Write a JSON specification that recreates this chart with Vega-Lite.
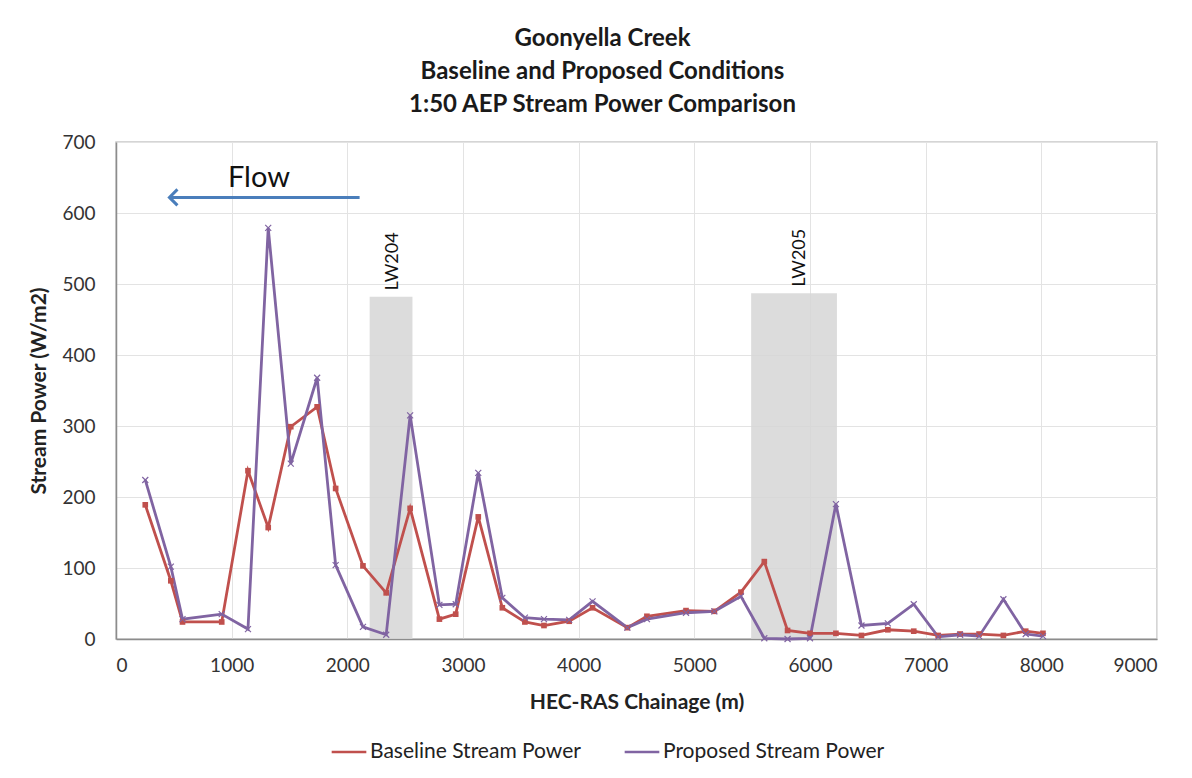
{
  "$schema": "https://vega.github.io/schema/vega-lite/v6.json",
  "autosize": {"type": "none"},
  "width": 1041,
  "height": 497,
  "padding": {"left": 116, "top": 142, "right": 35, "bottom": 139},
  "background": "white",
  "config": {
    "font": "Lato",
    "view": {"stroke": "#C8C8C8", "strokeWidth": 1.5},
    "axis": {
      "labelFont": "Lato", "labelFontSize": 19, "labelColor": "#333333",
      "titleFont": "Lato", "titleFontSize": 21, "titleFontWeight": "bold", "titleColor": "#222222",
      "gridColor": "#E3E3E3", "gridWidth": 1, "ticks": false, "tickSize": 0,
      "domainColor": "#8C8C8C", "domainWidth": 1.5
    }
  },
  "title": {
    "text": ["Goonyella Creek", "Baseline and Proposed Conditions", "1:50 AEP Stream Power Comparison"],
    "font": "Lato", "fontSize": 24, "fontWeight": "bold", "color": "#1A1A1A",
    "lineHeight": 33, "anchor": "middle", "dx": -34, "offset": 16
  },
  "datasets": {
    "power": [
      {"chainage": 253, "series": "Baseline Stream Power", "power": 189},
      {"chainage": 474, "series": "Baseline Stream Power", "power": 82},
      {"chainage": 575, "series": "Baseline Stream Power", "power": 24},
      {"chainage": 914, "series": "Baseline Stream Power", "power": 24},
      {"chainage": 1141, "series": "Baseline Stream Power", "power": 237},
      {"chainage": 1316, "series": "Baseline Stream Power", "power": 157},
      {"chainage": 1511, "series": "Baseline Stream Power", "power": 299},
      {"chainage": 1739, "series": "Baseline Stream Power", "power": 327},
      {"chainage": 1899, "series": "Baseline Stream Power", "power": 212},
      {"chainage": 2135, "series": "Baseline Stream Power", "power": 103},
      {"chainage": 2336, "series": "Baseline Stream Power", "power": 65},
      {"chainage": 2543, "series": "Baseline Stream Power", "power": 184},
      {"chainage": 2796, "series": "Baseline Stream Power", "power": 28},
      {"chainage": 2937, "series": "Baseline Stream Power", "power": 35},
      {"chainage": 3132, "series": "Baseline Stream Power", "power": 172},
      {"chainage": 3340, "series": "Baseline Stream Power", "power": 44},
      {"chainage": 3535, "series": "Baseline Stream Power", "power": 24},
      {"chainage": 3700, "series": "Baseline Stream Power", "power": 19},
      {"chainage": 3918, "series": "Baseline Stream Power", "power": 25},
      {"chainage": 4120, "series": "Baseline Stream Power", "power": 44},
      {"chainage": 4421, "series": "Baseline Stream Power", "power": 16},
      {"chainage": 4590, "series": "Baseline Stream Power", "power": 32},
      {"chainage": 4928, "series": "Baseline Stream Power", "power": 40},
      {"chainage": 5173, "series": "Baseline Stream Power", "power": 39},
      {"chainage": 5403, "series": "Baseline Stream Power", "power": 66},
      {"chainage": 5605, "series": "Baseline Stream Power", "power": 109},
      {"chainage": 5806, "series": "Baseline Stream Power", "power": 12},
      {"chainage": 6000, "series": "Baseline Stream Power", "power": 8},
      {"chainage": 6224, "series": "Baseline Stream Power", "power": 8},
      {"chainage": 6445, "series": "Baseline Stream Power", "power": 5},
      {"chainage": 6673, "series": "Baseline Stream Power", "power": 13},
      {"chainage": 6897, "series": "Baseline Stream Power", "power": 11},
      {"chainage": 7108, "series": "Baseline Stream Power", "power": 5},
      {"chainage": 7298, "series": "Baseline Stream Power", "power": 7},
      {"chainage": 7462, "series": "Baseline Stream Power", "power": 7},
      {"chainage": 7672, "series": "Baseline Stream Power", "power": 5},
      {"chainage": 7865, "series": "Baseline Stream Power", "power": 11},
      {"chainage": 8014, "series": "Baseline Stream Power", "power": 8},
      {"chainage": 253, "series": "Proposed Stream Power", "power": 224},
      {"chainage": 474, "series": "Proposed Stream Power", "power": 102},
      {"chainage": 575, "series": "Proposed Stream Power", "power": 28},
      {"chainage": 914, "series": "Proposed Stream Power", "power": 35},
      {"chainage": 1141, "series": "Proposed Stream Power", "power": 14},
      {"chainage": 1316, "series": "Proposed Stream Power", "power": 579},
      {"chainage": 1511, "series": "Proposed Stream Power", "power": 247},
      {"chainage": 1739, "series": "Proposed Stream Power", "power": 368},
      {"chainage": 1899, "series": "Proposed Stream Power", "power": 104},
      {"chainage": 2135, "series": "Proposed Stream Power", "power": 17},
      {"chainage": 2336, "series": "Proposed Stream Power", "power": 6},
      {"chainage": 2543, "series": "Proposed Stream Power", "power": 315},
      {"chainage": 2796, "series": "Proposed Stream Power", "power": 48},
      {"chainage": 2937, "series": "Proposed Stream Power", "power": 49},
      {"chainage": 3132, "series": "Proposed Stream Power", "power": 234},
      {"chainage": 3340, "series": "Proposed Stream Power", "power": 58},
      {"chainage": 3535, "series": "Proposed Stream Power", "power": 30},
      {"chainage": 3700, "series": "Proposed Stream Power", "power": 28},
      {"chainage": 3918, "series": "Proposed Stream Power", "power": 27},
      {"chainage": 4120, "series": "Proposed Stream Power", "power": 53},
      {"chainage": 4421, "series": "Proposed Stream Power", "power": 16},
      {"chainage": 4590, "series": "Proposed Stream Power", "power": 28},
      {"chainage": 4928, "series": "Proposed Stream Power", "power": 37},
      {"chainage": 5173, "series": "Proposed Stream Power", "power": 39},
      {"chainage": 5403, "series": "Proposed Stream Power", "power": 60},
      {"chainage": 5605, "series": "Proposed Stream Power", "power": 1},
      {"chainage": 5806, "series": "Proposed Stream Power", "power": 0},
      {"chainage": 6000, "series": "Proposed Stream Power", "power": 1},
      {"chainage": 6224, "series": "Proposed Stream Power", "power": 190},
      {"chainage": 6445, "series": "Proposed Stream Power", "power": 19},
      {"chainage": 6673, "series": "Proposed Stream Power", "power": 22},
      {"chainage": 6897, "series": "Proposed Stream Power", "power": 49},
      {"chainage": 7108, "series": "Proposed Stream Power", "power": 3},
      {"chainage": 7298, "series": "Proposed Stream Power", "power": 6},
      {"chainage": 7462, "series": "Proposed Stream Power", "power": 4},
      {"chainage": 7672, "series": "Proposed Stream Power", "power": 56},
      {"chainage": 7865, "series": "Proposed Stream Power", "power": 7},
      {"chainage": 8014, "series": "Proposed Stream Power", "power": 4}
    ],
    "zones": [
      {"name": "LW204", "start": 2193, "end": 2563, "bottom": 0, "top": 482, "labelX": 2394, "labelY": 491},
      {"name": "LW205", "start": 5491, "end": 6233, "bottom": 0, "top": 487, "labelX": 5910, "labelY": 496}
    ],
    "flow": [
      {"from": 2106, "to": 475, "tip": 462, "level": 622, "label": "Flow", "labelX": 1236, "labelY": 650}
    ]
  },
  "layer": [
    {
      "data": {"name": "zones"},
      "mark": {"type": "rect", "fill": "#D6D6D6", "opacity": 0.85},
      "encoding": {
        "x": {"field": "start", "type": "quantitative", "scale": {"domain": [0, 9000], "nice": false},
              "axis": {"values": [0, 1000, 2000, 3000, 4000, 5000, 6000, 7000, 8000, 9000], "format": "d", "title": "HEC-RAS Chainage (m)", "labelPadding": 17, "titlePadding": 16, "grid": true}},
        "x2": {"field": "end"},
        "y": {"field": "top", "type": "quantitative", "scale": {"domain": [0, 700], "nice": false},
              "axis": {"values": [0, 100, 200, 300, 400, 500, 600, 700], "format": "d", "title": "Stream Power (W/m2)", "labelPadding": 21, "titlePadding": 12, "grid": true}},
        "y2": {"field": "bottom"}
      }
    },
    {
      "data": {"name": "zones"},
      "mark": {"type": "text", "angle": 270, "align": "left", "baseline": "middle", "font": "Lato", "fontSize": 18, "color": "#111111"},
      "encoding": {
        "x": {"field": "labelX", "type": "quantitative"},
        "y": {"field": "labelY", "type": "quantitative"},
        "text": {"field": "name", "type": "nominal"}
      }
    },
    {
      "data": {"name": "flow"},
      "mark": {"type": "rule", "color": "#4A7EBB", "strokeWidth": 3},
      "encoding": {
        "x": {"field": "from", "type": "quantitative"},
        "x2": {"field": "to"},
        "y": {"field": "level", "type": "quantitative"}
      }
    },
    {
      "data": {"name": "flow"},
      "mark": {"type": "point", "shape": "M1,-1L0,0L1,1", "size": 256, "filled": false, "stroke": "#4A7EBB", "strokeWidth": 3, "opacity": 1},
      "encoding": {
        "x": {"field": "tip", "type": "quantitative"},
        "y": {"field": "level", "type": "quantitative"}
      }
    },
    {
      "data": {"name": "flow"},
      "mark": {"type": "text", "font": "Lato", "fontSize": 29, "color": "#111111", "align": "center", "baseline": "middle"},
      "encoding": {
        "x": {"field": "labelX", "type": "quantitative"},
        "y": {"field": "labelY", "type": "quantitative"},
        "text": {"field": "label", "type": "nominal"}
      }
    },
    {
      "data": {"name": "power"},
      "mark": {"type": "line", "strokeWidth": 2.8},
      "encoding": {
        "x": {"field": "chainage", "type": "quantitative"},
        "y": {"field": "power", "type": "quantitative"},
        "color": {"field": "series", "type": "nominal",
                  "scale": {"domain": ["Baseline Stream Power", "Proposed Stream Power"], "range": ["#C0504D", "#8064A2"]},
                  "legend": {"title": null, "orient": "none", "legendX": 214, "legendY": 591, "direction": "horizontal",
                             "symbolType": "stroke", "symbolStrokeWidth": 2.5, "symbolSize": 1200, "labelLimit": 0,
                             "labelFont": "Lato", "labelFontSize": 21, "labelColor": "#222222", "columnPadding": 38, "labelOffset": 2}}
      }
    },
    {
      "data": {"name": "power"},
      "transform": [{"filter": "datum.series === 'Baseline Stream Power'"}],
      "mark": {"type": "point", "shape": "square", "filled": true, "size": 32, "color": "#C0504D", "opacity": 1},
      "encoding": {
        "x": {"field": "chainage", "type": "quantitative"},
        "y": {"field": "power", "type": "quantitative"}
      }
    },
    {
      "data": {"name": "power"},
      "transform": [{"filter": "datum.series === 'Proposed Stream Power'"}],
      "mark": {"type": "point", "shape": "M-1,-1L1,1M-1,1L1,-1", "filled": false, "size": 36, "stroke": "#8064A2", "strokeWidth": 1.2, "opacity": 1},
      "encoding": {
        "x": {"field": "chainage", "type": "quantitative"},
        "y": {"field": "power", "type": "quantitative"}
      }
    }
  ]
}
